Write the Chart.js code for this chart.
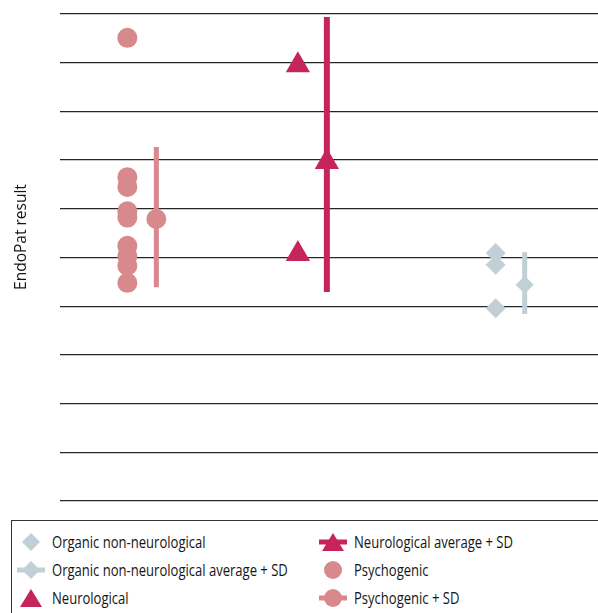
<!DOCTYPE html>
<html>
<head>
<meta charset="utf-8">
<script src="https://cdn.jsdelivr.net/npm/chart.js@4/dist/chart.umd.min.js"></script>
<style>
  body { margin: 0; background: #fff; font-family: "Open Sans", sans-serif; color: #151515; }
  #wrap { position: relative; width: 598px; height: 613px; overflow: hidden; }
  #chart { position: absolute; left: 0; top: 0; }
  #legend { position: absolute; left: 11px; top: 520px; width: 620px; height: 120px; border: 1px solid #333; }
  .item { position: absolute; height: 24px; display: flex; align-items: center; font-size: 16px; white-space: nowrap; }
  .item svg { flex: none; margin-right: 6px; }
  .item span { display: inline-block; transform: scaleX(0.815); transform-origin: left center; }
  #ytitle { position: absolute; left: 20px; top: 237px; font-size: 15.5px; white-space: nowrap;
            transform: translate(-50%, -50%) rotate(-90deg); }
</style>
</head>
<body>
<div id="wrap">
  <canvas id="chart" width="598" height="510"></canvas>
  <div id="ytitle">EndoPat result</div>
  <div id="legend"></div>
</div>
<script>
// groups, left to right
const groups = ['Psychogenic', 'Neurological', 'Organic non-neurological'];
const groupX = [1, 2, 3.16];
const offset = 0.085;

// individual EndoPat results
const psychogenicValues = [9.51, 6.65, 6.45, 5.95, 5.82, 5.24, 5.03, 4.83, 4.48];
const neurologicalValues = [8.95, 5.07];
const organicValues = [5.09, 4.85, 3.96];

// averages and SD range (low / high) per group
const averages = [5.79, 6.96, 4.44];
const sdLow = [4.39, 4.29, 3.84];
const sdHigh = [7.27, 9.94, 5.11];

const yTicks = [0, 1, 2, 3, 4, 5, 6, 7, 8, 9, 10];

const colors = ['#d8898e', '#c5255a', '#c3cfd7'];
const shapes = ['circle', 'triangle', 'rectRot'];
const radii = [10, 14, 10];

const datasets = [];
const pointSets = [psychogenicValues, neurologicalValues, organicValues];

// markers first so they sit on top of the SD bars
groups.forEach((g, i) => {
    datasets.push({
        label: g + ' average',
        type: 'scatter',
        data: [{ x: groupX[i] + offset, y: averages[i] }],
        backgroundColor: colors[i],
        pointStyle: shapes[i],
        pointRadius: i === 2 ? 9 : radii[i],
        pointBorderWidth: 0,
        order: 1
    });
    datasets.push({
        label: g,
        type: 'scatter',
        data: pointSets[i].map(v => ({ x: groupX[i] - offset, y: v })),
        backgroundColor: colors[i],
        pointStyle: shapes[i],
        pointRadius: radii[i],
        pointBorderWidth: 0,
        order: 1
    });
    datasets.push({
        label: g + ' SD',
        type: 'line',
        data: [{ x: groupX[i] + offset, y: sdLow[i] }, { x: groupX[i] + offset, y: sdHigh[i] }],
        borderColor: colors[i],
        borderWidth: i === 1 ? 6 : 5,
        borderCapStyle: 'butt',
        pointRadius: 0,
        order: 2
    });
});

new Chart(document.getElementById('chart'), {
    type: 'scatter',
    data: { datasets: datasets },
    options: {
        responsive: false,
        animation: false,
        devicePixelRatio: 1,
        layout: { autoPadding: false, padding: { top: 14, right: 0, bottom: 9, left: 60 } },
        plugins: { legend: { display: false }, tooltip: { enabled: false } },
        scales: {
            x: {
                type: 'linear',
                min: 0.52,
                max: 3.675,
                display: false
            },
            y: {
                min: yTicks[0],
                max: yTicks[yTicks.length - 1],
                afterBuildTicks: axis => { axis.ticks = yTicks.map(v => ({ value: v })); },
                ticks: { display: false },
                border: { display: false },
                grid: { color: '#262626', lineWidth: 1.3, drawTicks: false }
            }
        }
    }
});

// legend, drawn as html
function icon(shape, color, withLine) {
    let s = '<svg width="30" height="22" viewBox="0 0 30 22">';
    if (withLine) s += `<rect x="1" y="8.5" width="28" height="5" fill="${color}"/>`;
    if (shape === 'rectRot') s += `<polygon points="15,2 24,11 15,20 6,11" fill="${color}"/>`;
    if (shape === 'circle') s += `<circle cx="15" cy="11" r="9" fill="${color}"/>`;
    if (shape === 'triangle') s += `<polygon points="15,2 26,20 4,20" fill="${color}"/>`;
    return s + '</svg>';
}

const legendItems = [
    { text: 'Organic non-neurological', g: 2, line: false, col: 0, row: 0 },
    { text: 'Organic non-neurological average + SD', g: 2, line: true, col: 0, row: 1 },
    { text: 'Neurological', g: 1, line: false, col: 0, row: 2 },
    { text: 'Neurological average + SD', g: 1, line: true, col: 1, row: 0 },
    { text: 'Psychogenic', g: 0, line: false, col: 1, row: 1 },
    { text: 'Psychogenic + SD', g: 0, line: true, col: 1, row: 2 }
];

const legend = document.getElementById('legend');
legendItems.forEach(it => {
    const div = document.createElement('div');
    div.className = 'item';
    div.style.left = (it.col === 0 ? 4 : 306) + 'px';
    div.style.top = (9 + it.row * 28) + 'px';
    div.innerHTML = icon(shapes[it.g], colors[it.g], it.line) + '<span>' + it.text + '</span>';
    legend.appendChild(div);
});
</script>
</body>
</html>
